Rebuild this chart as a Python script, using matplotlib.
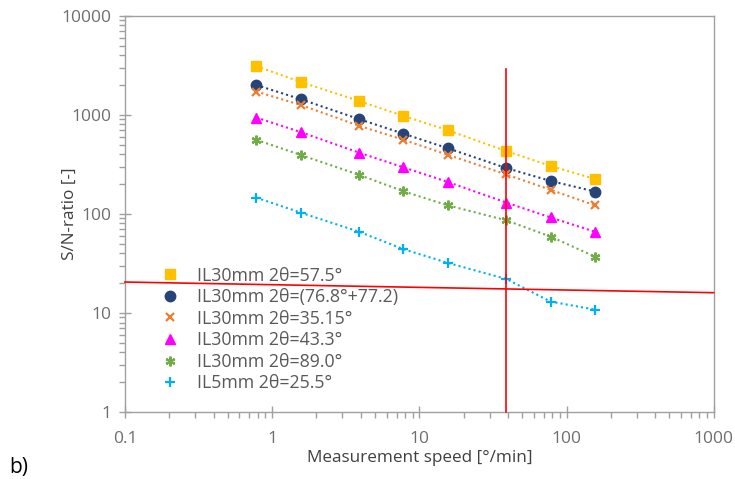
import matplotlib
matplotlib.use("Agg")
import matplotlib.pyplot as plt
from matplotlib.ticker import LogLocator, NullFormatter

plt.rcParams['font.family'] = ['Open Sans', 'DejaVu Sans']

speed = [0.78, 1.56, 3.9, 7.8, 15.6, 39, 78, 156]

labels = ["IL30mm 2θ=57.5°", "IL30mm 2θ=(76.8°+77.2)", "IL30mm 2θ=35.15°",
          "IL30mm 2θ=43.3°", "IL30mm 2θ=89.0°", "IL5mm 2θ=25.5°"]
s_575 = [3100, 2150, 1380, 975, 700, 430, 305, 225]
s_768 = [2000, 1440, 905, 645, 460, 290, 215, 168]
s_3515 = [1720, 1260, 775, 560, 395, 250, 175, 122]
s_433 = [940, 670, 415, 295, 210, 130, 92, 66]
s_890 = [560, 394, 248, 169, 122, 86, 59, 37]
s_il5 = [146, 103, 66, 44, 32, 22, 13, 10.8]
series = [s_575, s_768, s_3515, s_433, s_890, s_il5]
colors = ["#FFC000", "#264478", "#ED7D31", "#FF00FF", "#70AD47", "#00B0F0"]
markers = ["s", "o", "x", "^", (6, 2, 0), "+"]
msizes = [7, 7.5, 6, 7, 7, 7]

vline_x = 39
vline_y = [2900, 1]
hline_x = [0.1, 1000]
hline_y = [20.5, 16]

fig = plt.figure(figsize=(7.35, 4.79), dpi=100)
ax = fig.add_axes([0.170, 0.140, 0.801, 0.827])

for ys, c, m, ms, lab in zip(series, colors, markers, msizes, labels):
    ax.plot(speed, ys, linestyle=(0, (1, 1.5)), color=c, lw=1.5, zorder=2)
    mew = 1.6 if m in ("x", "+") or isinstance(m, tuple) else 1
    ax.plot(speed, ys, linestyle='none', marker=m, color=c, markersize=ms,
            markeredgewidth=mew, label=lab, zorder=3)

ax.plot([vline_x, vline_x], vline_y, color="#FF0000", lw=1.2, zorder=4, clip_on=False)
ax.plot(hline_x, hline_y, color="#FF0000", lw=1.2, zorder=4, clip_on=False)

ax.set_xscale('log')
ax.set_yscale('log')
ax.set_xlim(0.1, 1000)
ax.set_ylim(1, 10000)

ax.set_xticks([0.1, 1, 10, 100, 1000])
ax.set_xticklabels(["0.1", "1", "10", "100", "1000"])
ax.set_yticks([1, 10, 100, 1000, 10000])
ax.set_yticklabels(["1", "10", "100", "1000", "10000"])
ax.xaxis.set_minor_locator(LogLocator(base=10, subs=range(2, 10), numticks=20))
ax.yaxis.set_minor_locator(LogLocator(base=10, subs=range(2, 10), numticks=20))
ax.xaxis.set_minor_formatter(NullFormatter())
ax.yaxis.set_minor_formatter(NullFormatter())

gray = "#A0A0A0"
for sp in ax.spines.values():
    sp.set_color(gray)
    sp.set_linewidth(1.0)
ax.tick_params(which='major', direction='inout', length=8, width=1, color=gray,
               labelsize=12.5, labelcolor="#6E6E6E", pad=6)
ax.tick_params(which='minor', direction='out', length=4, width=1, color=gray)
ax.tick_params(axis='x', which='major', pad=10)

ax.set_xlabel("Measurement speed [°/min]", fontsize=12.3, color="#404040", labelpad=2)
ax.set_ylabel("S/N-ratio [-]", fontsize=12.3, color="#404040", labelpad=-12)

leg = ax.legend(loc='upper left', bbox_to_anchor=(0.035, 0.385), frameon=False,
                fontsize=12.8, labelcolor="#595959", handletextpad=0.5,
                labelspacing=0.2, borderaxespad=0)

fig.text(0.012, 0.012, "b)", fontsize=15, color="#000000")

fig.savefig("out.png", dpi=100)
